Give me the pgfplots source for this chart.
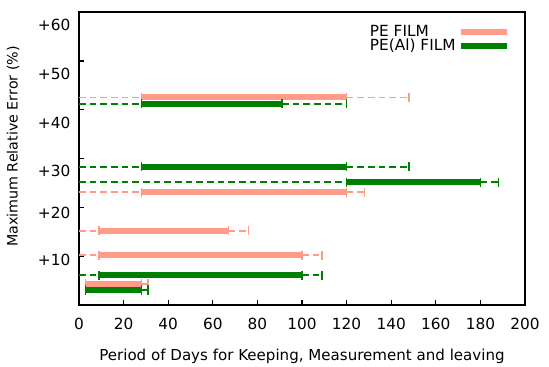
\documentclass[border=0pt]{standalone}
\usepackage{pgfplots}
\pgfplotsset{compat=1.18}
\usepackage{fontspec}
\setmainfont{DejaVu Sans}
\definecolor{pe}{RGB}{255,155,135}
\definecolor{al}{RGB}{0,128,0}
\pgfplotsset{
  dsh/.style={line width=1.4pt, dash pattern=on 5pt off 3pt, forget plot},
  cap/.style={only marks, mark=|, mark size=3.5pt, mark options={solid, line width=1.1pt}, forget plot},
  sld/.style={line width=4.5pt, line cap=butt, mark=|, mark size=3.5pt, mark options={solid, line width=1.1pt}},
}
\begin{document}
\begin{tikzpicture}
\begin{axis}[
  scale only axis,
  width=334.5pt, height=219.75pt,
  xmin=0, xmax=200, ymin=0, ymax=60,
  xtick={0,20,...,200},
  ytick={10,20,30,40,50}, yticklabels={},
  extra y ticks={57.3,47.4,37.2,27.5,18.8,9.2},
  extra y tick labels={+60,+50,+40,+30,+20,+10},
  extra y tick style={major tick length=0pt},
  tick align=inside, major tick length=3.75pt,
  xtick pos=bottom, ytick pos=left,
  axis line style={line width=1.1pt},
  every tick/.style={black, line width=1pt},
  /pgf/number format/assume math mode=true,
  tick label style={font=\fontsize{11.5}{13}\selectfont},
  xticklabel style={yshift=-6pt},
  yticklabel style={xshift=-3pt},
  xlabel={Period of Days for Keeping, Measurement and leaving},
  ylabel={Maximum Relative Error (\%)},
  xlabel style={font=\fontsize{11.3}{13}\selectfont, yshift=-8pt},
  ylabel style={font=\fontsize{10.7}{12}\selectfont, yshift=7pt, xshift=9pt},
  legend plot pos=right,
  legend cell align=left,
  legend style={draw=none, fill=none, at={(0.975,0.975)}, anchor=north east,
    font=\fontsize{11.5}{11}\selectfont, row sep=-3.5pt},
  legend image code/.code={\draw[#1, line width=4.5pt] (0pt,0pt) -- (34pt,0pt);},
]
% ---------- PE FILM ----------
\addplot[pe, dsh] coordinates {(0,42.5) (28,42.5)};
\addplot[pe, dsh] coordinates {(120,42.5) (148,42.5)};
\addplot[pe, cap] coordinates {(148,42.5)};
\addplot[pe, sld] coordinates {(28,42.5) (120,42.5)};
\addlegendentry{PE FILM}

\addplot[pe, dsh] coordinates {(0,23.1) (28,23.1)};
\addplot[pe, dsh] coordinates {(120,23.1) (128,23.1)};
\addplot[pe, cap] coordinates {(128,23.1)};
\addplot[pe, sld, forget plot] coordinates {(28,23.1) (120,23.1)};

\addplot[pe, dsh] coordinates {(0,15.2) (9,15.2)};
\addplot[pe, dsh] coordinates {(67,15.2) (76,15.2)};
\addplot[pe, cap] coordinates {(76,15.2)};
\addplot[pe, sld, forget plot] coordinates {(9,15.2) (67,15.2)};

\addplot[pe, dsh] coordinates {(0,10.2) (9,10.2)};
\addplot[pe, dsh] coordinates {(100,10.2) (109,10.2)};
\addplot[pe, cap] coordinates {(109,10.2)};
\addplot[pe, sld, forget plot] coordinates {(9,10.2) (100,10.2)};

\addplot[pe, dsh] coordinates {(28,4.3) (31,4.3)};
\addplot[pe, cap] coordinates {(31,4.3)};
\addplot[pe, sld, forget plot] coordinates {(3,4.3) (28,4.3)};

% ---------- PE(Al) FILM ----------
\addplot[al, dsh] coordinates {(0,41.2) (28,41.2)};
\addplot[al, dsh] coordinates {(91,41.2) (120,41.2)};
\addplot[al, cap] coordinates {(120,41.2)};
\addplot[al, sld] coordinates {(28,41.2) (91,41.2)};
\addlegendentry{PE(Al) FILM}

\addplot[al, dsh] coordinates {(0,28.3) (28,28.3)};
\addplot[al, dsh] coordinates {(120,28.3) (148,28.3)};
\addplot[al, cap] coordinates {(148,28.3)};
\addplot[al, sld, forget plot] coordinates {(28,28.3) (120,28.3)};

\addplot[al, dsh] coordinates {(0,25.1) (120,25.1)};
\addplot[al, dsh] coordinates {(180,25.1) (188,25.1)};
\addplot[al, cap] coordinates {(188,25.1)};
\addplot[al, sld, forget plot] coordinates {(120,25.1) (180,25.1)};

\addplot[al, dsh] coordinates {(0,6.1) (9,6.1)};
\addplot[al, dsh] coordinates {(100,6.1) (109,6.1)};
\addplot[al, cap] coordinates {(109,6.1)};
\addplot[al, sld, forget plot] coordinates {(9,6.1) (100,6.1)};

\addplot[al, dsh] coordinates {(28,3.1) (31,3.1)};
\addplot[al, cap] coordinates {(31,3.1)};
\addplot[al, sld, forget plot] coordinates {(3,3.1) (28,3.1)};
\end{axis}
\pgfresetboundingbox
\path[use as bounding box] ([xshift=-59.25pt,yshift=-46.5pt]current axis.south west) rectangle ([xshift=18pt,yshift=9pt]current axis.north east);
\end{tikzpicture}
\end{document}
